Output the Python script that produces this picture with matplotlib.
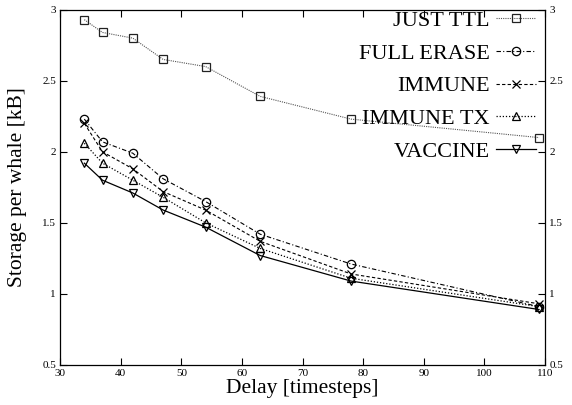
import matplotlib
matplotlib.use('Agg')
import matplotlib.pyplot as plt

delay = [34, 37, 42, 47, 54, 63, 78, 109]

just_ttl = [2.93, 2.84, 2.80, 2.65, 2.60, 2.39, 2.23, 2.10]
full_erase = [2.23, 2.07, 1.99, 1.81, 1.65, 1.42, 1.21, 0.91]
immune = [2.20, 2.00, 1.88, 1.72, 1.59, 1.37, 1.14, 0.93]
immune_tx = [2.06, 1.92, 1.80, 1.68, 1.50, 1.32, 1.11, 0.91]
vaccine = [1.92, 1.80, 1.71, 1.59, 1.47, 1.27, 1.09, 0.89]

x_ticks = [30, 40, 50, 60, 70, 80, 90, 100, 110]
y_ticks = [0.5, 1, 1.5, 2, 2.5, 3]


def main():
    plt.rcParams['font.family'] = ['Liberation Serif', 'DejaVu Serif']

    fig = plt.figure(figsize=(5.72, 4.05), dpi=100)
    ax = fig.add_axes([0.105, 0.099, 0.848, 0.877])

    mk = dict(markerfacecolor='none', markersize=6, markeredgewidth=0.9)
    ax.plot(delay, just_ttl, color='#555555', ls=(0, (1, 1)), lw=0.8,
            marker='s', markeredgecolor='#222222', label='JUST TTL', **mk)
    ax.plot(delay, full_erase, color='black', ls=(0, (4, 2, 1, 2)), lw=0.8,
            marker='o', markeredgecolor='black', label='FULL ERASE', **mk)
    ax.plot(delay, immune, color='black', ls=(0, (3, 2)), lw=0.8,
            marker='x', markeredgecolor='black', label='IMMUNE', **mk)
    ax.plot(delay, immune_tx, color='black', ls=(0, (1, 1.5)), lw=0.9,
            marker='^', markeredgecolor='black', label='IMMUNE TX', **mk)
    ax.plot(delay, vaccine, color='black', ls='-', lw=0.9,
            marker='v', markeredgecolor='black', label='VACCINE', **mk)

    ax.set_xlim(30, 110)
    ax.set_ylim(0.5, 3)
    ax.set_xticks(x_ticks)
    ax.set_yticks(y_ticks)
    ax.set_yticklabels(['0.5', '1', '1.5', '2', '2.5', '3'])
    ax.tick_params(direction='in', length=5, width=0.8, labelsize=8,
                   top=True, right=True, labelright=True, pad=3)

    for s in ax.spines.values():
        s.set_linewidth(0.9)

    ax.set_xlabel('Delay [timesteps]', fontsize=15.5, labelpad=1)
    ax.set_ylabel('Storage per whale [kB]', fontsize=15.5, labelpad=11)

    ax.legend(loc='upper right', markerfirst=False, frameon=False,
              fontsize=16, handlelength=1.8, handletextpad=0.3,
              labelspacing=0.55, borderaxespad=0.1,
              bbox_to_anchor=(1.005, 1.03))

    fig.savefig('out.png', dpi=100)


if __name__ == '__main__':
    main()
